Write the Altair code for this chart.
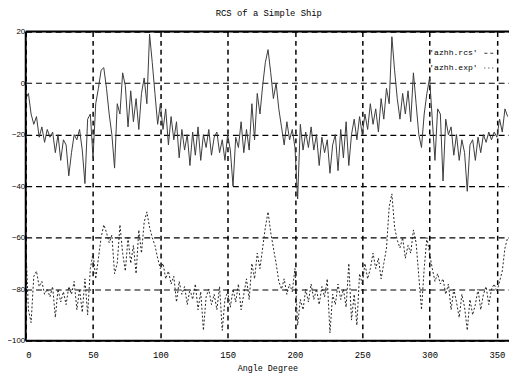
import altair as alt
import pandas as pd

# angles in degrees (2-degree steps)
angles = list(range(0, 360, 2))

rcs = [
    -6, -4, -12, -16, -13, -21, -17, -23, -18, -21,
    -19, -27, -20, -30, -22, -24, -36, -27, -20, -22,
    -18, -26, -39, -14, -12, -29, -8, -2, 5, 6,
    -2, -12, -20, -33, -8, -12, 4, -1, -17, -3,
    -15, -6, -18, -4, 2, -8, 19, 8, -4, -16,
    -8, -18, -10, -24, -13, -22, -15, -29, -18, -26,
    -20, -32, -19, -28, -17, -30, -20, -25, -18, -28,
    -21, -19, -27, -22, -30, -20, -26, -40, -21, -25,
    -15, -27, -18, -26, -8, -22, -4, -12, -1, 8,
    13, 4, -6, 0, -10, -17, -24, -15, -22, -18,
    -25, -45, -16, -26, -19, -25, -17, -26, -20, -32,
    -21, -27, -22, -35, -24, -20, -34, -18, -29, -15,
    -32, -20, -14, -22, -13, -20, -12, -18, -8, -16,
    -10, -19, -6, -14, -2, -8, 18, 5, -6, -14,
    -4, -12, -3, -15, 4, -8, -20, -25, -12, -4,
    2, -14, -30, -10, -12, -38, -14, -20, -17, -28,
    -20, -30, -22, -27, -42, -24, -22, -30, -21, -27,
    -20, -23, -19, -22, -19, -21, -14, -19, -10, -13,
]

exp = [
    -62, -88, -93, -75, -73, -79, -77, -82, -80, -83,
    -79, -91, -80, -85, -81, -86, -79, -82, -77, -88,
    -80, -89, -76, -90, -72, -66, -76, -68, -60, -55,
    -58, -62, -59, -74, -70, -55, -66, -73, -60, -70,
    -63, -74, -57, -66, -54, -50, -56, -60, -63, -68,
    -72, -70, -76, -73, -78, -75, -85, -77, -82, -79,
    -86, -80, -84, -78, -88, -81, -96, -83, -80, -86,
    -82, -88, -79, -96, -84, -81, -87, -80, -85, -78,
    -88, -82, -76, -84, -70, -76, -66, -72, -64, -56,
    -50, -58, -64, -70, -77, -80, -76, -82, -78, -81,
    -72, -94, -84, -88, -80, -85, -78, -84, -80, -86,
    -79, -83, -76, -97, -82, -86, -78, -84, -80, -87,
    -70, -92, -82, -94, -74, -78, -70, -76, -72, -66,
    -72, -68, -76, -70, -64, -48, -43, -56, -61, -64,
    -60, -68, -63, -66, -57, -62, -75, -88, -72, -60,
    -66, -72, -77, -74, -78, -76, -82, -78, -88, -80,
    -85, -91, -82, -87, -96, -84, -90, -86, -80, -88,
    -82, -79, -86, -80, -78, -81, -77, -73, -64, -60,
]

x_ticks = [0, 50, 100, 150, 200, 250, 300, 350]
y_ticks = [-100, -80, -60, -40, -20, 0, 20]
series_names = ["'azhh.rcs'", "'azhh.exp'"]
title_text = "RCS of a Simple Ship"
x_title = "Angle Degree"

W, H = 491, 314
FONT = "Liberation Mono"

df_rcs = pd.DataFrame({"angle": angles, "value": rcs})
df_exp = pd.DataFrame({"angle": angles, "value": exp})

xs = alt.Scale(domain=[0, 359], nice=False, zero=False)
ys = alt.Scale(domain=[-100, 20], nice=False, zero=False)

xaxis = alt.Axis(values=x_ticks, grid=True, gridColor="black", gridDash=[5, 4],
                 gridWidth=1.5, gridOpacity=1, ticks=False, domain=False,
                 labelFont=FONT, labelFontSize=9, labelColor="black", labelPadding=10,
                 title=x_title, titleFont=FONT, titleFontSize=8.5, titleFontWeight="normal",
                 titleColor="black", titlePadding=4)
yaxis = alt.Axis(values=y_ticks, grid=True, gridColor="black", gridDash=[6, 4],
                 gridWidth=1.2, gridOpacity=1, ticks=False, domain=False,
                 labelFont="Liberation Sans", labelFontSize=8, labelColor="black",
                 labelPadding=1, title=None)

base_rcs = alt.Chart(df_rcs).mark_line(color="#3a3a3a", strokeWidth=1, clip=True).encode(
    x=alt.X("angle:Q", scale=xs, axis=xaxis),
    y=alt.Y("value:Q", scale=ys, axis=yaxis),
)
base_exp = alt.Chart(df_exp).mark_line(color="#222222", strokeWidth=1, strokeDash=[2, 2], clip=True).encode(
    x=alt.X("angle:Q", scale=xs),
    y=alt.Y("value:Q", scale=ys),
)

border_top = alt.Chart(pd.DataFrame({"d": [0]})).mark_rule(color="black", strokeWidth=2).encode(
    x=alt.value(0), x2=alt.value(W), y=alt.value(0))
border_left = alt.Chart(pd.DataFrame({"d": [0]})).mark_rule(color="black", strokeWidth=2).encode(
    x=alt.value(0), y=alt.value(0), y2=alt.value(H))
border_bottom = alt.Chart(pd.DataFrame({"d": [0]})).mark_rule(color="black", strokeWidth=2).encode(
    x=alt.value(0), x2=alt.value(W), y=alt.value(H))

title = alt.Chart(pd.DataFrame({"t": [title_text]})).mark_text(
    font=FONT, fontSize=9, color="black", align="center", baseline="middle").encode(
    text="t:N", x=alt.value(247), y=alt.value(-19))

leg1 = alt.Chart(pd.DataFrame({"t": [series_names[0]]})).mark_text(
    font=FONT, fontSize=8.2, color="black", align="left", baseline="middle").encode(
    text="t:N", x=alt.value(410), y=alt.value(22))
leg2 = alt.Chart(pd.DataFrame({"t": [series_names[1]]})).mark_text(
    font=FONT, fontSize=8.2, color="black", align="left", baseline="middle").encode(
    text="t:N", x=alt.value(410), y=alt.value(37))
legs1 = alt.Chart(pd.DataFrame({"d": [0]})).mark_rule(color="#333333", strokeWidth=1, strokeDash=[3, 3]).encode(
    x=alt.value(466), x2=alt.value(478), y=alt.value(22))
legs2 = alt.Chart(pd.DataFrame({"d": [0]})).mark_rule(color="#222222", strokeWidth=1, strokeDash=[1, 3]).encode(
    x=alt.value(466), x2=alt.value(478), y=alt.value(37))

chart = alt.layer(
    base_rcs, base_exp, border_top, border_left, border_bottom, title, leg1, leg2, legs1, legs2
).properties(
    width=W, height=H,
    padding={"left": 18, "top": 21, "right": 0, "bottom": 38},
    autosize=alt.AutoSizeParams(type="none"),
).configure_view(stroke=None).configure(background="white")

chart.save("out.html", embed_options={"renderer": "svg", "actions": False})
